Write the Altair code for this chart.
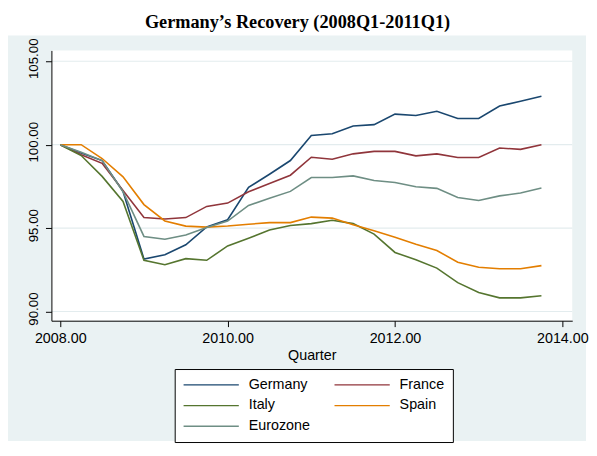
import altair as alt
import pandas as pd

quarters = [2008.00, 2008.25, 2008.50, 2008.75, 2009.00, 2009.25, 2009.50, 2009.75,
            2010.00, 2010.25, 2010.50, 2010.75, 2011.00, 2011.25, 2011.50, 2011.75,
            2012.00, 2012.25, 2012.50, 2012.75, 2013.00, 2013.25, 2013.50, 2013.75]

germany = [100.0, 99.5, 99.05, 97.2, 93.15, 93.4, 94.0, 95.07, 95.5, 97.44, 98.23, 99.05,
           100.55, 100.65, 101.12, 101.2, 101.83, 101.75, 102.0, 101.57, 101.57, 102.32, 102.6, 102.9]
france = [100.0, 99.4, 98.88, 97.25, 95.63, 95.55, 95.63, 96.3, 96.5, 97.18, 97.67, 98.17,
          99.25, 99.13, 99.45, 99.6, 99.6, 99.33, 99.45, 99.23, 99.23, 99.8, 99.72, 100.0]
italy = [100.0, 99.35, 98.1, 96.6, 93.07, 92.8, 93.17, 93.07, 93.93, 94.39, 94.88, 95.16,
         95.27, 95.47, 95.27, 94.64, 93.54, 93.1, 92.6, 91.73, 91.14, 90.82, 90.82, 90.94]
spain = [100.0, 100.0, 99.17, 98.07, 96.41, 95.43, 95.12, 95.06, 95.13, 95.23, 95.33, 95.33,
         95.66, 95.6, 95.2, 94.84, 94.45, 94.03, 93.66, 92.95, 92.65, 92.56, 92.56, 92.75]
eurozone = [100.0, 99.55, 99.05, 97.18, 94.5, 94.33, 94.58, 95.04, 95.42, 96.36, 96.79, 97.2,
            98.03, 98.03, 98.13, 97.85, 97.73, 97.48, 97.38, 96.83, 96.65, 96.93, 97.1, 97.4]

series_names = ["Germany", "France", "Italy", "Spain", "Eurozone"]
series_colors = ["#1a476f", "#90353b", "#55752f", "#e37e00", "#6e8e84"]
x_ticks = [2008, 2010, 2012, 2014]
y_ticks = [90, 95, 100, 105]

rows = []
for name, vals in zip(series_names, [germany, france, italy, spain, eurozone]):
    for q, v in zip(quarters, vals):
        rows.append({"quarter": q, "value": v, "country": name})
df = pd.DataFrame(rows)

W, H = 528, 274
BG = "#EAF2F3"

xscale = alt.Scale(domain=[2007.894, 2014.118], nice=False, zero=False)
yscale = alt.Scale(domain=[89.45, 105.65], nice=False, zero=False)

x_axis = alt.Axis(values=x_ticks, format=".2f", grid=False, zindex=1,
                  labelFont="Liberation Sans", labelFontSize=14.5, labelColor="black",
                  labelPadding=5, labelFlush=False, labelOverlap=False,
                  tickSize=6, tickColor="black", tickWidth=1,
                  domainColor="black", domainWidth=1,
                  titleFont="Liberation Sans", titleFontSize=14.5, titleFontWeight="normal",
                  titleColor="black", titleX=264, titleY=39, titleBaseline="alphabetic")

y_axis = alt.Axis(values=y_ticks, format=".2f", grid=False, zindex=1,
                  labelFont="Liberation Sans", labelFontSize=13.5, labelColor="black",
                  labelAngle=270, labelAlign="center", labelBaseline="alphabetic",
                  labelPadding=8, labelOffset=-3, labelFlush=False, labelOverlap=False,
                  tickSize=6, tickColor="black", tickWidth=1,
                  domainColor="black", domainWidth=1)

one = pd.DataFrame({"k": [0]})

bg = alt.Chart(one).mark_rect(color=BG).encode(
    x=alt.value(-44), x2=alt.value(542), y=alt.value(-15), y2=alt.value(396))

plot_bg = alt.Chart(one).mark_rect(color="white").encode(
    x=alt.value(0), x2=alt.value(W), y=alt.value(0), y2=alt.value(H))

grid = alt.Chart(pd.DataFrame({"g": y_ticks})).mark_rule(color="#E3ECEE", strokeWidth=1.2).encode(
    y=alt.Y("g:Q", scale=yscale, axis=y_axis, title=None),
    x=alt.value(0), x2=alt.value(W))

legend = alt.Legend(title=None, orient="none", legendX=125, legendY=323, columns=2,
                    direction="horizontal",
                    symbolType="stroke", symbolSize=3136, symbolStrokeWidth=1.3,
                    clipHeight=16, rowPadding=5, columnPadding=23, labelOffset=9,
                    labelFont="Liberation Sans", labelFontSize=14.5, labelColor="black",
                    padding=8, fillColor="white", strokeColor="black")

lines = alt.Chart(df).mark_line(strokeWidth=1.6).encode(
    x=alt.X("quarter:Q", scale=xscale, axis=x_axis, title="Quarter"),
    y=alt.Y("value:Q", scale=yscale, axis=y_axis, title=None),
    color=alt.Color("country:N", scale=alt.Scale(domain=series_names, range=series_colors),
                    legend=legend),
)

chart = alt.layer(bg, plot_bg, grid, lines).properties(
    width=W, height=H,
    autosize=alt.AutoSizeParams(type="none"),
    padding={"left": 44, "top": 40, "right": 17, "bottom": 122},
    title=alt.Title("Germany\u2019s Recovery (2008Q1-2011Q1)", font="Liberation Serif",
                    fontSize=18.5, fontWeight="bold", color="black", anchor="middle",
                    dx=-14.5, offset=4),
).configure_view(strokeWidth=0)

chart.save("out.html", embed_options={"renderer": "svg", "actions": False})
